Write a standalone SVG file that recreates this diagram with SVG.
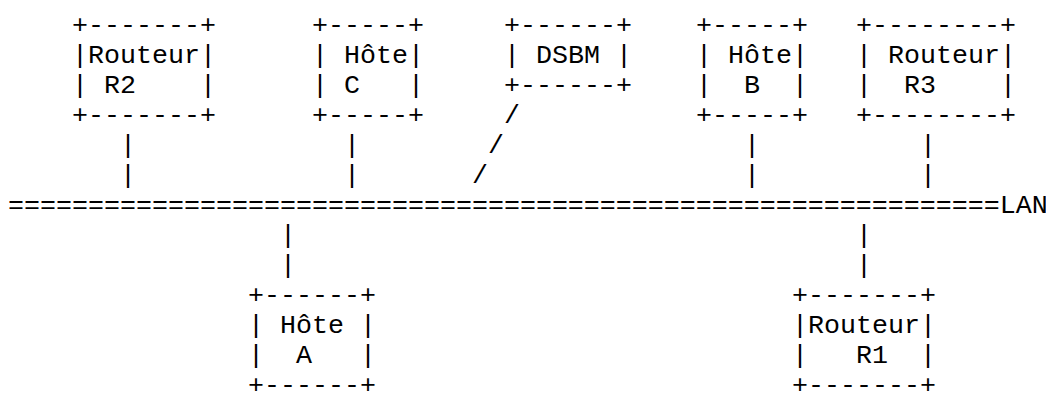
<svg xmlns="http://www.w3.org/2000/svg" width="1046" height="394" viewBox="0 0 1046 394">
  <style>
    text { font-family: "Liberation Mono", "Courier New", monospace; font-size: 26.667px; fill: #000; white-space: pre; }
  </style>
  <rect width="1046" height="394" fill="#fff"/>
  <!-- Monospace grid: column c starts at x = 8 + 16*c, row r baseline at y = 32.5 + 30*(r-1) -->

  <g id="routeur-r2" xml:space="preserve">
    <text x="72" y="32.5">+-------+</text>
    <text x="72" y="62.5">|Routeur|</text>
    <text x="72" y="92.5">| R2    |</text>
    <text x="72" y="122.5">+-------+</text>
  </g>

  <g id="hote-c" xml:space="preserve">
    <text x="312" y="32.5">+-----+</text>
    <text x="312" y="62.5">| Hôte|</text>
    <text x="312" y="92.5">| C   |</text>
    <text x="312" y="122.5">+-----+</text>
  </g>

  <g id="dsbm" xml:space="preserve">
    <text x="504" y="32.5">+------+</text>
    <text x="504" y="62.5">| DSBM |</text>
    <text x="504" y="92.5">+------+</text>
  </g>

  <g id="hote-b" xml:space="preserve">
    <text x="696" y="32.5">+-----+</text>
    <text x="696" y="62.5">| Hôte|</text>
    <text x="696" y="92.5">|  B  |</text>
    <text x="696" y="122.5">+-----+</text>
  </g>

  <g id="routeur-r3" xml:space="preserve">
    <text x="856" y="32.5">+--------+</text>
    <text x="856" y="62.5">| Routeur|</text>
    <text x="856" y="92.5">|  R3    |</text>
    <text x="856" y="122.5">+--------+</text>
  </g>

  <g id="lan">
    <text x="8" y="212.5">==============================================================LAN</text>
  </g>

  <g id="connectors">
    <!-- R2 -->
    <text x="120" y="152.5">|</text>
    <text x="120" y="182.5">|</text>
    <!-- Hôte C -->
    <text x="344" y="152.5">|</text>
    <text x="344" y="182.5">|</text>
    <!-- DSBM -->
    <text x="504" y="122.5">/</text>
    <text x="488" y="152.5">/</text>
    <text x="472" y="182.5">/</text>
    <!-- Hôte B -->
    <text x="744" y="152.5">|</text>
    <text x="744" y="182.5">|</text>
    <!-- R3 -->
    <text x="920" y="152.5">|</text>
    <text x="920" y="182.5">|</text>
    <!-- Hôte A -->
    <text x="280" y="242.5">|</text>
    <text x="280" y="272.5">|</text>
    <!-- R1 -->
    <text x="856" y="242.5">|</text>
    <text x="856" y="272.5">|</text>
  </g>

  <g id="hote-a" xml:space="preserve">
    <text x="248" y="302.5">+------+</text>
    <text x="248" y="332.5">| Hôte |</text>
    <text x="248" y="362.5">|  A   |</text>
    <text x="248" y="392.5">+------+</text>
  </g>

  <g id="routeur-r1" xml:space="preserve">
    <text x="792" y="302.5">+-------+</text>
    <text x="792" y="332.5">|Routeur|</text>
    <text x="792" y="362.5">|   R1  |</text>
    <text x="792" y="392.5">+-------+</text>
  </g>
</svg>
